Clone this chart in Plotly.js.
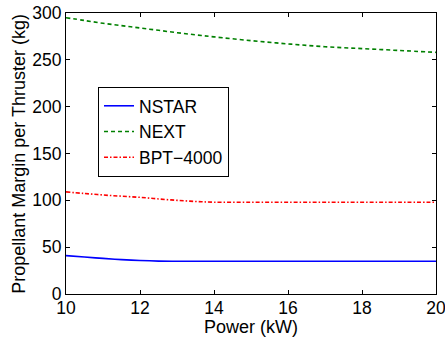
<!DOCTYPE html>
<html>
<head>
<meta charset="utf-8">
<script src="https://cdn.plot.ly/plotly-3.0.1.min.js"></script>
<style>html,body{margin:0;padding:0;background:#fff;}#chart{width:445px;height:343px;}</style>
</head>
<body>
<div id="chart"></div>
<script>
// Data
const powerKW = [10, 10.5, 11, 11.5, 12, 12.5, 13, 13.5, 14, 15, 16, 17, 18, 19, 20];
const nstar   = [41, 39.5, 38, 36.7, 35.7, 35.1, 35, 35, 35, 35, 35, 35, 35, 35, 35];
const next    = [295, 292, 289, 286.5, 284, 281.5, 279, 276.7, 274.5, 270.5, 267, 264, 262, 260, 258];
const bpt     = [109, 107.3, 105.7, 104.4, 103.2, 101.5, 100, 98.8, 98, 98, 98, 98, 98, 98, 98];
const seriesNames = ['NSTAR', 'NEXT', 'BPT\u22124000'];
const xTicks = [10, 12, 14, 16, 18, 20];
const yTicks = [0, 50, 100, 150, 200, 250, 300];
const xTitle = 'Power (kW)';
const yTitle = 'Propellant Margin per Thruster (kg)';

const fam = 'Liberation Sans, Arial, Helvetica, sans-serif';
const tickFont = {family: fam, size: 17.5, color: '#000'};

const traces = [
  {x: powerKW, y: nstar, name: seriesNames[0], mode: 'lines',
   line: {color: '#0000ff', width: 1.6, shape: 'spline'}},
  {x: powerKW, y: next, name: seriesNames[1], mode: 'lines',
   line: {color: '#008000', width: 1.6, dash: '4px,3px', shape: 'spline'}},
  {x: powerKW, y: bpt, name: seriesNames[2], mode: 'lines',
   line: {color: '#ff0000', width: 1.6, dash: '4px,2px,1.5px,2px', shape: 'spline'}}
];

const layout = {
  width: 445, height: 343,
  margin: {l: 66, r: 9, t: 13, b: 49},
  paper_bgcolor: '#fff', plot_bgcolor: '#fff',
  font: tickFont,
  showlegend: true,
  legend: {x: 0.0865, y: 0.737, xanchor: 'left', yanchor: 'top',
           bgcolor: '#fff', bordercolor: '#000', borderwidth: 1,
           font: {family: fam, size: 17.5, color: '#000'}, itemwidth: 30, tracegroupgap: 0},
  xaxis: {range: [10, 20], tickvals: xTicks, ticktext: xTicks.map(String),
          ticks: 'inside', ticklen: 4, tickcolor: '#000', tickwidth: 1,
          showline: true, linecolor: '#000', linewidth: 1, mirror: 'ticks',
          showgrid: false, zeroline: false, tickfont: tickFont,
          ticklabeloverflow: 'allow', ticklabelstandoff: -2},
  yaxis: {range: [0, 300], tickvals: yTicks, ticktext: yTicks.map(String),
          ticks: 'inside', ticklen: 4, tickcolor: '#000', tickwidth: 1,
          showline: true, linecolor: '#000', linewidth: 1, mirror: 'ticks',
          showgrid: false, zeroline: false, tickfont: tickFont,
          ticklabeloverflow: 'allow'},
  annotations: [
    {text: xTitle, xref: 'paper', yref: 'paper', x: 0.5, y: -0.117,
     xanchor: 'center', yanchor: 'middle', showarrow: false,
     font: {family: fam, size: 18, color: '#000'}},
    {text: yTitle, xref: 'paper', yref: 'paper', x: -0.129, y: 0.5,
     xanchor: 'center', yanchor: 'middle', showarrow: false, textangle: -90,
     font: {family: fam, size: 18, color: '#000'}}
  ]
};

Plotly.newPlot('chart', traces, layout, {staticPlot: true, displayModeBar: false});
</script>
</body>
</html>
